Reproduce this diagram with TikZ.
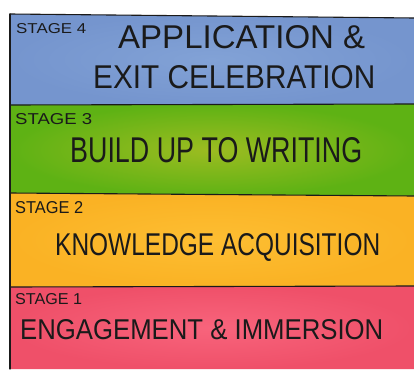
\documentclass[tikz,border=0pt]{standalone}
\usepackage{fontspec}
\setmainfont{Liberation Sans}

\definecolor{blueedge}{HTML}{7595CE}
\definecolor{bluemid}{HTML}{82A2D6}
\definecolor{greenedge}{HTML}{5EB214}
\definecolor{greenmid}{HTML}{9CBC21}
\definecolor{orangeedge}{HTML}{FAB224}
\definecolor{orangemid}{HTML}{FDBE32}
\definecolor{rededge}{HTML}{EF5069}
\definecolor{redmid}{HTML}{F8647C}
\definecolor{ink}{HTML}{1A1A1A}

% lettering squeezed to a width and a cap height
\newcommand{\hand}[3]{\resizebox{#1pt}{#2pt}{#3}}

\begin{document}
\begin{tikzpicture}[x=1pt, y=-1pt,
        lettering/.style={inner sep=0pt, anchor=base west, text=ink},
        border/.style={line width=1.1pt, ink, line cap=round}]

            % the frame
            \useasboundingbox (0,0) rectangle (414,369);

            % the bands
            \foreach \lt/\rt/\lb/\rb/\col in {14/18/105/104/blue, 105/104/193/196/green,
                                              193/196/287/286/orange, 287/286/369/369/red} {
                \shade[inner color=\col mid, outer color=\col edge]
                    (10,\lt) -- (414,\rt) -- (414,\rb) -- (10,\lb) -- cycle;
            };

            % the lines
            \foreach \l/\r in {14/18, 105/104, 193/196, 287/286} {
                \draw[border] (10,\l) -- (414,\r);
            }
            \draw[border] (10,14) -- (10,369);

            % stage 4
            \node[lettering] (stage4) at (16,33) {\hand{70}{10}{STAGE 4}};
            \node[lettering] (title4a) at (118,48) {\hand{247}{23}{APPLICATION \&}};
            \node[lettering] (title4b) at (93,88) {\hand{282}{23}{EXIT CELEBRATION}};

            % stage 3
            \node[lettering] (stage3) at (15,124) {\hand{77}{11}{STAGE 3}};
            \node[lettering] (title3) at (70,162) {\hand{292}{25}{BUILD UP TO WRITING}};

            % stage 2
            \node[lettering] (stage2) at (15,213) {\hand{68}{12}{STAGE 2}};
            \node[lettering] (title2) at (55,255) {\hand{325}{22}{KNOWLEDGE ACQUISITION}};

            % stage 1
            \node[lettering] (stage1) at (15,304) {\hand{67}{11}{STAGE 1}};
            \node[lettering] (title1) at (20,339) {\hand{363}{20}{ENGAGEMENT \& IMMERSION}};

        \end{tikzpicture}
\end{document}
